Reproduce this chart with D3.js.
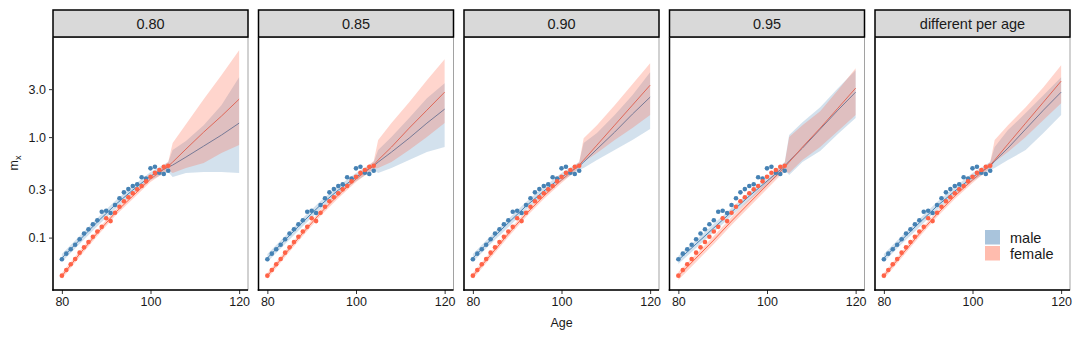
<!DOCTYPE html>
<html>
<head>
<meta charset="utf-8">
<script src="https://cdn.jsdelivr.net/npm/d3@7"></script>
<style>
  body { margin: 0; background: #fff; }
  text { font-family: "Liberation Sans", Arial, sans-serif; fill: #1a1a1a; }
</style>
</head>
<body>
<div id="chart"></div>
<script>
// facets
const panels = ['0.80', '0.85', '0.90', '0.95', 'different per age'];
const xTicks = [80, 100, 120];
const yTicks = [0.1, 0.3, 1.0, 3.0];

// observed death rates
const obsAges = [80, 81, 82, 83, 84, 85, 86, 87, 88, 89, 90, 91, 92, 93, 94, 95, 96, 97, 98, 99, 100, 101, 102, 103, 104];
const maleObs = [0.0608, 0.0692, 0.0765, 0.085, 0.0962, 0.110, 0.121, 0.136, 0.149, 0.181, 0.185, 0.176, 0.211,
  0.246, 0.282, 0.304, 0.326, 0.339, 0.398, 0.388, 0.489, 0.507, 0.442, 0.429, 0.462];
const femaleObs = [0.0418, 0.0476, 0.0543, 0.0612, 0.0708, 0.080, 0.0904, 0.102, 0.115, 0.128, 0.156, 0.146, 0.177,
  0.203, 0.230, 0.252, 0.276, 0.302, 0.326, 0.363, 0.403, 0.442, 0.470, 0.507, 0.519];

// fitted / extrapolated rates, one row per facet
const fitAges = [80, 84, 88, 92, 96, 100, 104, 105, 108, 112, 116, 120];
const maleMid = [
  [0.0626, 0.0946, 0.143, 0.211, 0.297, 0.410, 0.503, 0.527, 0.633, 0.814, 1.047, 1.378],
  [0.0626, 0.0946, 0.143, 0.211, 0.297, 0.400, 0.515, 0.564, 0.709, 0.977, 1.378, 1.898],
  [0.0626, 0.0946, 0.140, 0.206, 0.290, 0.400, 0.515, 0.564, 0.760, 1.121, 1.693, 2.498],
  [0.0599, 0.0864, 0.125, 0.180, 0.259, 0.365, 0.515, 0.577, 0.778, 1.201, 1.855, 2.802],
  [0.0626, 0.0946, 0.140, 0.206, 0.290, 0.400, 0.515, 0.577, 0.778, 1.201, 1.855, 2.802]
];
const maleHi = [
  [0.0687, 0.104, 0.157, 0.231, 0.326, 0.449, 0.564, 0.743, 0.913, 1.316, 2.080, 3.948],
  [0.0687, 0.104, 0.157, 0.231, 0.326, 0.439, 0.564, 0.743, 1.000, 1.545, 2.442, 3.441],
  [0.0687, 0.104, 0.153, 0.226, 0.318, 0.439, 0.564, 0.872, 1.096, 1.655, 2.616, 4.428],
  [0.0656, 0.0946, 0.137, 0.197, 0.284, 0.400, 0.564, 1.047, 1.409, 1.987, 3.070, 4.634],
  [0.0687, 0.104, 0.153, 0.226, 0.318, 0.439, 0.564, 0.796, 1.174, 1.733, 2.616, 3.948]
];
const maleLo = [
  [0.0572, 0.0864, 0.130, 0.192, 0.271, 0.374, 0.449, 0.400, 0.439, 0.449, 0.449, 0.439],
  [0.0572, 0.0864, 0.130, 0.192, 0.271, 0.365, 0.470, 0.439, 0.492, 0.591, 0.709, 0.796],
  [0.0572, 0.0864, 0.127, 0.188, 0.265, 0.365, 0.470, 0.492, 0.591, 0.743, 0.934, 1.201],
  [0.0547, 0.0788, 0.114, 0.164, 0.236, 0.333, 0.470, 0.419, 0.564, 0.726, 1.071, 1.545],
  [0.0572, 0.0864, 0.127, 0.188, 0.265, 0.365, 0.470, 0.492, 0.591, 0.743, 1.096, 1.655]
];
const femaleMid = [
  [0.0415, 0.0687, 0.111, 0.176, 0.259, 0.383, 0.515, 0.564, 0.760, 1.121, 1.617, 2.386],
  [0.0415, 0.0687, 0.111, 0.176, 0.265, 0.383, 0.527, 0.591, 0.796, 1.229, 1.855, 2.802],
  [0.0415, 0.0671, 0.109, 0.172, 0.259, 0.374, 0.527, 0.591, 0.833, 1.316, 2.080, 3.287],
  [0.0415, 0.0626, 0.0946, 0.146, 0.221, 0.333, 0.503, 0.564, 0.796, 1.229, 1.942, 3.070],
  [0.0415, 0.0671, 0.109, 0.172, 0.259, 0.374, 0.527, 0.591, 0.852, 1.378, 2.228, 3.603]
];
const femaleHi = [
  [0.0445, 0.0736, 0.119, 0.188, 0.277, 0.410, 0.564, 0.872, 1.346, 2.386, 4.134, 7.325],
  [0.0445, 0.0736, 0.119, 0.188, 0.284, 0.410, 0.577, 0.934, 1.378, 2.228, 3.686, 5.963],
  [0.0445, 0.0719, 0.116, 0.184, 0.277, 0.400, 0.564, 0.977, 1.316, 2.080, 3.363, 5.439],
  [0.0455, 0.0687, 0.104, 0.160, 0.242, 0.365, 0.551, 1.000, 1.316, 1.813, 2.933, 4.852],
  [0.0445, 0.0719, 0.116, 0.184, 0.277, 0.400, 0.564, 0.934, 1.316, 1.987, 3.141, 5.195]
];
const femaleLo = [
  [0.0388, 0.0641, 0.104, 0.164, 0.242, 0.357, 0.470, 0.439, 0.492, 0.551, 0.693, 0.833],
  [0.0388, 0.0641, 0.104, 0.164, 0.247, 0.357, 0.481, 0.492, 0.564, 0.743, 1.000, 1.378],
  [0.0388, 0.0626, 0.1016, 0.160, 0.242, 0.349, 0.492, 0.564, 0.693, 0.934, 1.229, 1.655],
  [0.0379, 0.0572, 0.0864, 0.1334, 0.202, 0.304, 0.459, 0.439, 0.591, 0.796, 1.147, 1.655],
  [0.0388, 0.0626, 0.1016, 0.160, 0.242, 0.349, 0.492, 0.564, 0.709, 1.000, 1.476, 2.178]
];

const sexes = ['male', 'female'];
const colors = { male: '#4682b4', female: '#ff6347' };
const bandColors = { male: 'rgba(70,130,180,0.24)', female: 'rgba(255,99,71,0.27)' };
const keyColors = { male: '#a9c4dc', female: '#ffbcae' };

const width = 1080, height = 338;
const panelLeft = 53, panelStep = 205.5, panelW = 195;
const stripTop = 10, stripH = 27, plotTop = 37.5, plotBottom = 290;

const svg = d3.select('#chart')
  .append('svg')
  .attr('width', width)
  .attr('height', height);

const x = d3.scaleLinear().domain([78, 122]).range([0, panelW]);
const y = d3.scaleLog().domain([0.0301, 9.8]).range([plotBottom, plotTop]);

const line = d3.line()
  .x(d => x(d.age))
  .y(d => y(d.mid));

const band = d3.area()
  .x(d => x(d.age))
  .y0(d => y(d.lo))
  .y1(d => y(d.hi));

const fits = { male: [maleMid, maleLo, maleHi], female: [femaleMid, femaleLo, femaleHi] };
const obs = { male: maleObs, female: femaleObs };

panels.forEach((label, i) => {
  const g = svg.append('g')
    .attr('transform', `translate(${panelLeft + i * panelStep},0)`);

  g.append('clipPath')
    .attr('id', `clip${i}`)
    .append('rect')
    .attr('x', 0)
    .attr('y', plotTop)
    .attr('width', panelW)
    .attr('height', plotBottom - plotTop);

  const plot = g.append('g').attr('clip-path', `url(#clip${i})`);

  const rows = {};
  sexes.forEach(s => {
    const [mid, lo, hi] = fits[s];
    rows[s] = fitAges.map((age, j) => ({ age, mid: mid[i][j], lo: lo[i][j], hi: hi[i][j] }));
  });

  // lines sit under the ribbons, so they come out muted like the original
  sexes.forEach(s => {
    plot.append('path')
      .datum(rows[s])
      .attr('d', line)
      .attr('fill', 'none')
      .attr('stroke', colors[s])
      .attr('stroke-width', 1);
  });

  sexes.forEach(s => {
    plot.append('path')
      .datum(rows[s])
      .attr('d', band)
      .attr('fill', bandColors[s]);
  });

  sexes.forEach(s => {
    plot.append('g')
      .selectAll('circle')
      .data(obsAges.map((age, j) => ({ age, v: obs[s][j] })))
      .enter()
      .append('circle')
      .attr('cx', d => x(d.age))
      .attr('cy', d => y(d.v))
      .attr('r', 2.3)
      .attr('fill', colors[s]);
  });

  // panel frame
  g.append('rect')
    .attr('x', 0)
    .attr('y', plotTop)
    .attr('width', panelW)
    .attr('height', plotBottom - plotTop)
    .attr('fill', 'none')
    .attr('stroke', '#8c8c8c')
    .attr('stroke-width', 0.8);

  g.append('line')
    .attr('x1', 0).attr('x2', 0)
    .attr('y1', plotTop).attr('y2', plotBottom + 0.75)
    .attr('stroke', '#000').attr('stroke-width', 1.5);

  // strip
  g.append('rect')
    .attr('x', 0)
    .attr('y', stripTop)
    .attr('width', panelW)
    .attr('height', stripH)
    .attr('fill', '#d9d9d9')
    .attr('stroke', '#000')
    .attr('stroke-width', 1.5);

  g.append('text')
    .attr('x', panelW / 2)
    .attr('y', stripTop + stripH / 2 + 5)
    .attr('text-anchor', 'middle')
    .style('font-size', '14.5px')
    .text(label);

  const xAxis = g.append('g')
    .attr('transform', `translate(0,${plotBottom})`)
    .call(d3.axisBottom(x).tickValues(xTicks).tickSize(4).tickPadding(3));
  xAxis.select('.domain').remove();
  xAxis.selectAll('.tick line').attr('stroke', '#333').attr('stroke-width', 1);
  xAxis.selectAll('.tick text').style('font-size', '12.5px').attr('fill', '#1a1a1a');
  xAxis.append('line')
    .attr('x1', -0.75).attr('x2', panelW)
    .attr('stroke', '#000').attr('stroke-width', 1.5);

  if (i === 0) {
    const yAxis = g.append('g')
      .call(d3.axisLeft(y).tickValues(yTicks).tickFormat(d3.format('.1f')).tickSize(4).tickPadding(3));
    yAxis.select('.domain').remove();
    yAxis.selectAll('.tick line').attr('stroke', '#333').attr('stroke-width', 1);
    yAxis.selectAll('.tick text').style('font-size', '12.5px').attr('fill', '#1a1a1a');
  }

  if (i === panels.length - 1) {
    const legend = g.append('g').attr('transform', 'translate(110,230)');
    sexes.forEach((s, k) => {
      legend.append('rect')
        .attr('x', 0)
        .attr('y', k * 16)
        .attr('width', 15)
        .attr('height', 14.5)
        .attr('fill', keyColors[s]);
      legend.append('text')
        .attr('x', 25)
        .attr('y', k * 16 + 12.5)
        .style('font-size', '14.5px')
        .text(s);
    });
  }
});

// axis titles
svg.append('text')
  .attr('x', panelLeft + (panelStep * 4 + panelW) / 2)
  .attr('y', 327)
  .attr('text-anchor', 'middle')
  .style('font-size', '12.5px')
  .text('Age');

const yTitle = svg.append('text')
  .attr('transform', 'translate(18,163) rotate(-90)')
  .attr('text-anchor', 'middle')
  .style('font-size', '12.5px');
yTitle.append('tspan').text('m');
yTitle.append('tspan')
  .attr('dy', 3)
  .style('font-size', '9px')
  .text('x');
</script>
</body>
</html>
